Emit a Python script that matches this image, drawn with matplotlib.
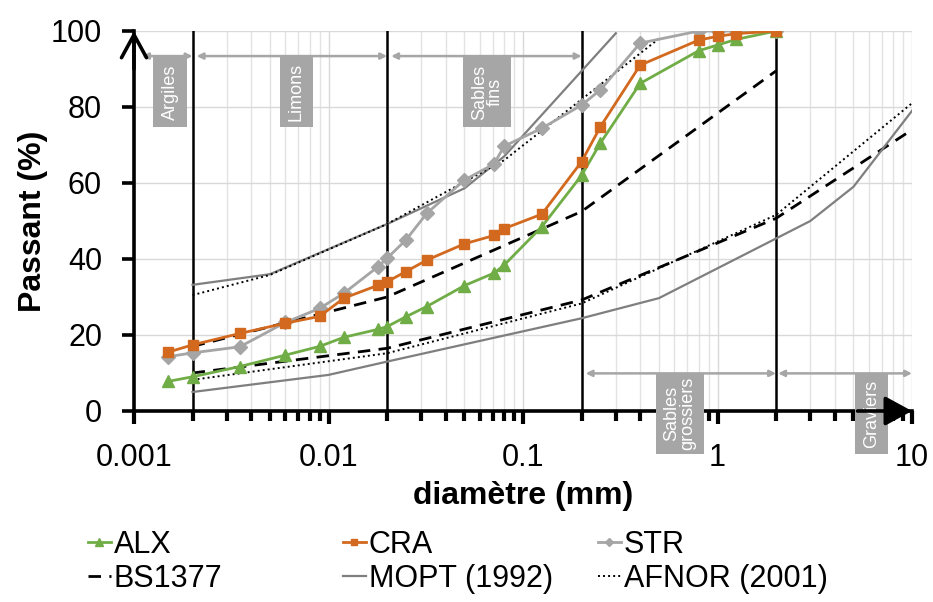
import numpy as np
import matplotlib
matplotlib.use("Agg")
import matplotlib.pyplot as plt
from matplotlib.patches import Rectangle
from matplotlib.ticker import LogLocator, FixedLocator, NullFormatter

plt.rcParams['font.family'] = ['Liberation Sans', 'DejaVu Sans']

# sieve diameters (mm) for the three soils
diam = [0.0015, 0.002, 0.0035, 0.006, 0.009, 0.012, 0.018, 0.02, 0.025, 0.032,
        0.05, 0.071, 0.08, 0.125, 0.2, 0.25, 0.4, 0.8, 1.0, 1.25, 2.0]
alx = [7.8, 9, 11.7, 14.7, 17, 19.4, 21.5, 22.2, 24.8, 27.5,
       33, 36.3, 38.4, 48.5, 62, 70.5, 86.2, 94.8, 96.3, 97.8, 100]
cra = [15.5, 17.4, 20.4, 23.1, 24.9, 29.7, 33.1, 34, 36.7, 39.7,
       44, 46.2, 48, 51.8, 65.6, 74.8, 91, 97.6, 98.6, 99.3, 100]
strr = [14.3, 15.3, 16.9, 23.3, 27, 31, 38, 40.2, 45, 52,
        60.8, 65, 69.7, 74.4, 80.5, 84.5, 96.8, 100, 100, 100, 100]

# reference envelopes (upper / lower)
bs_up_d = [0.002, 0.02, 0.2, 2]
bs_up = [17, 30, 52.5, 89.5]
bs_lo_d = [0.002, 0.02, 0.2, 2, 10]
bs_lo = [10, 16.5, 29.2, 50.7, 74]

mopt_up_d = [0.002, 0.005, 0.02, 0.05, 0.08, 0.3]
mopt_up = [33.2, 36, 49.2, 58.6, 67, 99.4]
mopt_lo_d = [0.002, 0.01, 0.02, 0.2, 0.5, 2, 3, 5, 10]
mopt_lo = [5, 9.5, 13, 24.4, 29.7, 45.4, 50, 59, 79]

afnor_up_d = [0.002, 0.005, 0.02, 0.08, 0.2, 0.5]
afnor_up = [30.5, 35.8, 49.2, 66, 82, 98]
afnor_lo_d = [0.002, 0.02, 0.2, 2, 10]
afnor_lo = [8.2, 15.2, 28.3, 51.6, 81]

# class limits (mm)
limits = [0.002, 0.02, 0.2, 2]

fig = plt.figure(figsize=(9.33, 6.02), dpi=100)
ax = fig.add_axes([134 / 933, 1 - 411 / 602, (912 - 134) / 933, 380 / 602])
ax.set_xscale('log')
ax.set_xlim(0.001, 10)
ax.set_ylim(0, 100)

# grid
ax.grid(True, which='major', axis='both', color='#d9d9d9', lw=1.0, zorder=0)
ax.grid(True, which='minor', axis='x', color='#e3e3e3', lw=1.0, zorder=0)
ax.set_axisbelow(True)

for d in limits:
    ax.plot([d, d], [0, 100], color='black', lw=1.8, zorder=2)

# envelopes
l_bs, = ax.plot(bs_up_d, bs_up, color='black', lw=2.0, dashes=(4.5, 3), label='BS1377', zorder=3)
ax.plot(bs_lo_d, bs_lo, color='black', lw=2.0, dashes=(4.5, 3), zorder=3)
l_mopt, = ax.plot(mopt_up_d, mopt_up, color='#7f7f7f', lw=1.6, label='MOPT (1992)', zorder=3)
ax.plot(mopt_lo_d, mopt_lo, color='#7f7f7f', lw=1.6, zorder=3)
l_af, = ax.plot(afnor_up_d, afnor_up, color='black', lw=1.4, ls=(0, (1, 1.6)), label='AFNOR (2001)', zorder=3)
ax.plot(afnor_lo_d, afnor_lo, color='black', lw=1.4, ls=(0, (1, 1.6)), zorder=3)

# soils
l_alx, = ax.plot(diam, alx, color='#70ad47', lw=2.0, marker='^', ms=9, label='ALX', zorder=5)
l_cra, = ax.plot(diam, cra, color='#d2691e', lw=2.0, marker='s', ms=7, label='CRA', zorder=5)
l_str, = ax.plot(diam, strr, color='#a5a5a5', lw=2.0, marker='D', ms=7, label='STR', zorder=4)

# class arrows and boxes
grey = '#a6a6a6'
for x0, x1, y in [(0.0011, 0.002, 93.4), (0.0021, 0.02, 93.4), (0.021, 0.2, 93.4),
                  (0.21, 2, 9.9), (2.05, 10, 9.9)]:
    ax.annotate('', xy=(x0, y), xytext=(x1, y),
                arrowprops=dict(arrowstyle='<|-|>', color=grey, lw=1.8,
                                mutation_scale=9, shrinkA=0, shrinkB=0),
                annotation_clip=False, zorder=6)

boxes = [(0.001259, 0.001862, 74.7, 93.2, 'Argiles'),
         (0.005617, 0.008312, 74.7, 93.2, 'Limons'),
         (0.04929, 0.08711, 74.7, 93.2, 'Sables\nfins'),
         (0.4813, 0.8511, -11.3, 10, 'Sables\ngrossiers'),
         (5.107, 7.55, -11.3, 10, 'Graviers')]
for x0, x1, y0, y1, txt in boxes:
    ax.add_patch(Rectangle((x0, y0), x1 - x0, y1 - y0, facecolor=grey, edgecolor='none',
                           transform=ax.transData, clip_on=False, zorder=7))
    ax.text(np.sqrt(x0 * x1), (y0 + y1) / 2, txt, rotation=90, color='white', fontsize=13,
            ha='center', va='center', linespacing=0.9, zorder=8, clip_on=False)

# axes styling
for s in ['top', 'right']:
    ax.spines[s].set_visible(False)
for s in ['left', 'bottom']:
    ax.spines[s].set_linewidth(2.6)
    ax.spines[s].set_zorder(6)

ax.xaxis.set_major_locator(FixedLocator([0.001, 0.01, 0.1, 1, 10]))
ax.xaxis.set_minor_locator(LogLocator(base=10, subs=np.arange(2, 10), numticks=20))
ax.xaxis.set_minor_formatter(NullFormatter())
ax.set_xticklabels(['0.001', '0.01', '0.1', '1', '10'])
ax.set_yticks([0, 20, 40, 60, 80, 100])
ax.tick_params(axis='x', which='major', direction='out', length=9, width=3, labelsize=22, pad=14)
ax.tick_params(axis='x', which='minor', direction='out', length=7, width=3)
ax.tick_params(axis='y', which='major', direction='out', length=9, width=2.6, labelsize=22, pad=14)

ax.set_xlabel('diamètre (mm)', fontsize=23, fontweight='bold', labelpad=6)
ax.set_ylabel('Passant (%)', fontsize=23, fontweight='bold', labelpad=2)

# axis arrowheads
ax.annotate('', xy=(0, 1.0), xytext=(0, 0.9), xycoords='axes fraction',
            arrowprops=dict(arrowstyle='->,head_length=0.55,head_width=0.3', color='black',
                            lw=2.6, mutation_scale=30, shrinkA=0, shrinkB=0),
            annotation_clip=False, zorder=9)
ax.annotate('', xy=(1.0, 0), xytext=(0.93, 0), xycoords='axes fraction',
            arrowprops=dict(arrowstyle='-|>,head_length=0.55,head_width=0.3', color='black',
                            lw=2.6, mutation_scale=30, shrinkA=0, shrinkB=0),
            annotation_clip=False, zorder=9)

# legend: three columns of equal width
cols = [([l_alx, l_bs], 88), ([l_cra, l_mopt], 343), ([l_str, l_af], 598)]
for handles, xpx in cols:
    fig.legend(handles=handles, labels=[h.get_label() for h in handles],
               loc='upper left', bbox_to_anchor=(xpx / 933, 1 - 530 / 602),
               frameon=False, fontsize=22, handlelength=0.75, handletextpad=0.1,
               borderpad=0, borderaxespad=0, labelspacing=0.12, markerscale=0.6)

fig.savefig('out.png', dpi=100)
